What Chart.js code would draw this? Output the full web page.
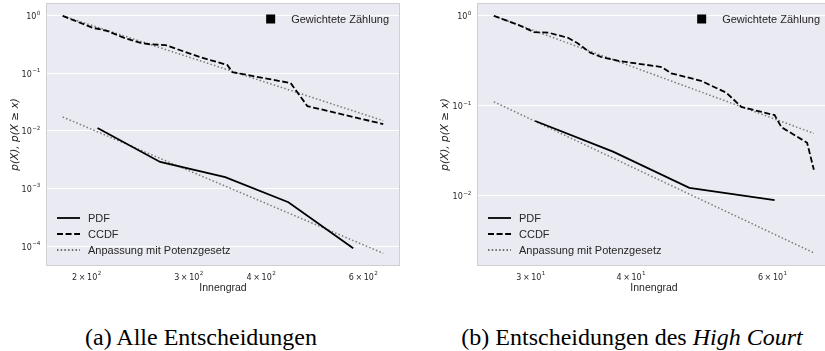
<!DOCTYPE html>
<html>
<head>
<meta charset="utf-8">
<script src="https://cdn.jsdelivr.net/npm/chart.js@4.4.1/dist/chart.umd.min.js"></script>
<style>
  body { margin: 0; width: 825px; height: 351px; overflow: hidden; background: #fff; position: relative; }
  canvas { position: absolute; top: 0; }
  #chartA { left: 0; }
  #chartB { left: 410px; }
  .caption { position: absolute; top: 325px; font-family: "Liberation Serif", serif; font-size: 24px; line-height: 24px; color: #000; white-space: nowrap; transform: translateX(-50%); }
</style>
</head>
<body>
<canvas id="chartA" width="410" height="300"></canvas>
<canvas id="chartB" width="425" height="300"></canvas>
<div class="caption" style="left:201px">(a) Alle Entscheidungen</div>
<div class="caption" style="left:632px">(b) Entscheidungen des <i>High Court</i></div>
<script>
// (a) Alle Entscheidungen
const ccdfDegreeA = [182, 205, 217, 233, 248, 258, 274, 315, 350, 357, 450, 481, 650];
const ccdfA = [1.0, 0.62, 0.55, 0.41, 0.34, 0.32, 0.31, 0.19, 0.14, 0.105, 0.068, 0.027, 0.0132];
const pdfDegreeA = [209, 268, 347, 446, 577];
const pdfA = [0.0113, 0.0029, 0.00158, 0.00058, 0.000092];
const fitDegreeA = [182, 650];
const ccdfFitA = [1.0, 0.0151];
const pdfFitA = [0.0175, 0.000075];
const xTicksA = [200, 300, 400, 600];
const xTickBaseA = ["2\u2009×\u200910", "3\u2009×\u200910", "4\u2009×\u200910", "6\u2009×\u200910"];
const xTickExpA = ["2", "2", "2", "2"];
const yTicksA = [1, 0.1, 0.01, 0.001, 0.0001];
const yTickExpA = ["0", "\u22121", "\u22122", "\u22123", "\u22124"];

// (b) Entscheidungen des High Court
const ccdfDegreeB = [27.0, 29.0, 30.3, 31.6, 33.4, 34.3, 35.6, 36.7, 38.6, 43.7, 44.9, 48.9, 52.6, 54.9, 60.4, 61.6, 66.3, 67.6];
const ccdfB = [1.0, 0.79, 0.66, 0.65, 0.57, 0.5, 0.39, 0.35, 0.316, 0.27, 0.23, 0.19, 0.14, 0.0975, 0.079, 0.058, 0.039, 0.0195];
const pdfDegreeB = [30.4, 38, 47.3, 60.4];
const pdfB = [0.068, 0.031, 0.0123, 0.009];
const fitDegreeB = [27.0, 67.6];
const ccdfFitB = [1.0, 0.0495];
const pdfFitB = [0.111, 0.00233];
const xTicksB = [30, 40, 60];
const xTickBaseB = ["3\u2009×\u200910", "4\u2009×\u200910", "6\u2009×\u200910"];
const xTickExpB = ["1", "1", "1"];
const yTicksB = [1, 0.1, 0.01];
const yTickExpB = ["0", "\u22121", "\u22122"];

const legendLabels = ["PDF", "CCDF", "Anpassung mit Potenzgesetz"];
const weightLabel = "Gewichtete Zählung";

const TEXT = "#262626";
const FIT_COLOR = "#7a7a7a";

function xy(xs, ys) {
  return xs.map((x, i) => ({ x: x, y: ys[i] }));
}

function drawPower(ctx, base, exp, x, baseline, align) {
  ctx.font = "8px 'DejaVu Sans'";
  const bw = ctx.measureText(base).width;
  ctx.font = "5.6px 'DejaVu Sans'";
  const ew = ctx.measureText(exp).width;
  const x0 = align === "center" ? x - (bw + ew) / 2 : x - bw - ew;
  ctx.textAlign = "left";
  ctx.textBaseline = "alphabetic";
  ctx.font = "8px 'DejaVu Sans'";
  ctx.fillText(base, x0, baseline);
  ctx.font = "5.6px 'DejaVu Sans'";
  ctx.fillText(exp, x0 + bw + 0.4, baseline - 4.6);
}

const plotFrame = {
  id: "plotFrame",
  beforeDraw(chart) {
    const { ctx, chartArea: a } = chart;
    ctx.save();
    ctx.fillStyle = "#EAEAF2";
    ctx.fillRect(a.left, a.top, a.right - a.left, a.bottom - a.top);
    ctx.restore();
  },
  afterDraw(chart) {
    const { ctx, chartArea: a } = chart;
    ctx.save();
    ctx.strokeStyle = "#cfcfcf";
    ctx.lineWidth = 1;
    ctx.strokeRect(a.left - 0.5, a.top - 0.5, a.right - a.left + 1, a.bottom - a.top + 1);
    ctx.restore();
  }
};

const mathTicks = {
  id: "mathTicks",
  afterDraw(chart, args, opts) {
    const { ctx, chartArea: a, scales } = chart;
    ctx.save();
    ctx.fillStyle = TEXT;
    opts.xTicks.forEach((v, i) => {
      drawPower(ctx, opts.xBase[i], opts.xExp[i], scales.x.getPixelForValue(v), a.bottom + 15, "center");
    });
    opts.yTicks.forEach((v, i) => {
      drawPower(ctx, "10", opts.yExp[i], a.left - 7, scales.y.getPixelForValue(v) + 3.5, "right");
    });
    ctx.restore();
  }
};

const panelLegend = {
  id: "panelLegend",
  afterDraw(chart) {
    const { ctx, chartArea: a } = chart;
    const ds = chart.data.datasets;
    ctx.save();
    ctx.font = "11px 'Liberation Sans'";
    ctx.textBaseline = "middle";
    ctx.textAlign = "left";
    legendLabels.forEach((label, i) => {
      const y = a.bottom - 47 + i * 16;
      ctx.beginPath();
      ctx.strokeStyle = i === 2 ? "#444" : ds[i].borderColor;
      ctx.lineWidth = ds[i].borderWidth;
      ctx.setLineDash(ds[i].borderDash || []);
      ctx.moveTo(a.left + 10, y);
      ctx.lineTo(a.left + 33, y);
      ctx.stroke();
      ctx.setLineDash([]);
      ctx.fillStyle = TEXT;
      ctx.fillText(label, a.left + 41, y + 0.5);
    });
    // square marker entry, upper right
    const ty = a.top + 15;
    ctx.textAlign = "right";
    const tw = ctx.measureText(weightLabel).width;
    ctx.fillText(weightLabel, a.right - 10, ty + 0.5);
    ctx.fillStyle = "#000";
    const sx = a.right - 10 - tw - 20.5;
    ctx.fillRect(sx - 4.5, ty - 4.5, 9, 9);
    ctx.restore();
  }
};

function makeChart(id, d) {
  const ctx = document.getElementById(id).getContext("2d");
  return new Chart(ctx, {
    type: "line",
    data: {
      datasets: [
        { label: "PDF", data: xy(d.pdfX, d.pdf), borderColor: "#000", borderWidth: 1.8, order: 0 },
        { label: "CCDF", data: xy(d.ccdfX, d.ccdf), borderColor: "#000", borderWidth: 1.8, borderDash: [6, 2.6], order: 0 },
        { label: "Anpassung mit Potenzgesetz", data: xy(d.fitX, d.pdfFit), borderColor: FIT_COLOR, borderWidth: 1.5, borderDash: [1.5, 2.2], order: 1 },
        { label: "Anpassung (CCDF)", data: xy(d.fitX, d.ccdfFit), borderColor: FIT_COLOR, borderWidth: 1.5, borderDash: [1.5, 2.2], order: 1 }
      ]
    },
    options: {
      responsive: false,
      animation: false,
      layout: { padding: { top: 4, right: d.padRight, left: 0, bottom: 0 } },
      elements: { point: { radius: 0 }, line: { tension: 0, fill: false } },
      scales: {
        x: {
          type: "logarithmic",
          min: d.xMin,
          max: d.xMax,
          afterBuildTicks: function (s) { s.ticks = d.xTicks.map((v) => ({ value: v })); },
          afterFit: function (s) { s.height = 35; },
          grid: { display: false },
          border: { display: false },
          ticks: { display: false },
          title: { display: true, text: "Innengrad", color: TEXT, font: { family: "Liberation Sans", size: 10.5 }, padding: { top: 0, bottom: 5.5 } }
        },
        y: {
          type: "logarithmic",
          min: d.yMin,
          max: d.yMax,
          afterBuildTicks: function (s) { s.ticks = d.yTicks.map((v) => ({ value: v })); },
          afterFit: function (s) { s.width = d.yWidth; },
          grid: { color: "#ffffff", lineWidth: 1, drawTicks: false },
          border: { display: false },
          ticks: { display: false },
          title: { display: true, text: "p(X), p(X ≥ x)", color: TEXT, font: { family: "DejaVu Sans", size: 10.5, style: "italic" }, padding: { top: d.yTitlePad, bottom: 0 } }
        }
      },
      plugins: {
        legend: { display: false },
        tooltip: { enabled: false },
        mathTicks: { xTicks: d.xTicks, xBase: d.xBase, xExp: d.xExp, yTicks: d.yTicks, yExp: d.yExp }
      }
    },
    plugins: [plotFrame, mathTicks, panelLegend]
  });
}

makeChart("chartA", {
  pdfX: pdfDegreeA, pdf: pdfA, ccdfX: ccdfDegreeA, ccdf: ccdfA,
  fitX: fitDegreeA, pdfFit: pdfFitA, ccdfFit: ccdfFitA,
  xMin: 171, xMax: 692, yMin: 0.000047, yMax: 1.607,
  xTicks: xTicksA, xBase: xTickBaseA, xExp: xTickExpA,
  yTicks: yTicksA, yExp: yTickExpA,
  yWidth: 47, yTitlePad: 8.7, padRight: 11
});

makeChart("chartB", {
  pdfX: pdfDegreeB, pdf: pdfB, ccdfX: ccdfDegreeB, ccdf: ccdfB,
  fitX: fitDegreeB, pdfFit: pdfFitB, ccdfFit: ccdfFitB,
  xMin: 25.8, xMax: 70.8, yMin: 0.00171, yMax: 1.354,
  xTicks: xTicksB, xBase: xTickBaseB, xExp: xTickExpB,
  yTicks: yTicksB, yExp: yTickExpB,
  yWidth: 68, yTitlePad: 28.7, padRight: 5
});
</script>
</body>
</html>
